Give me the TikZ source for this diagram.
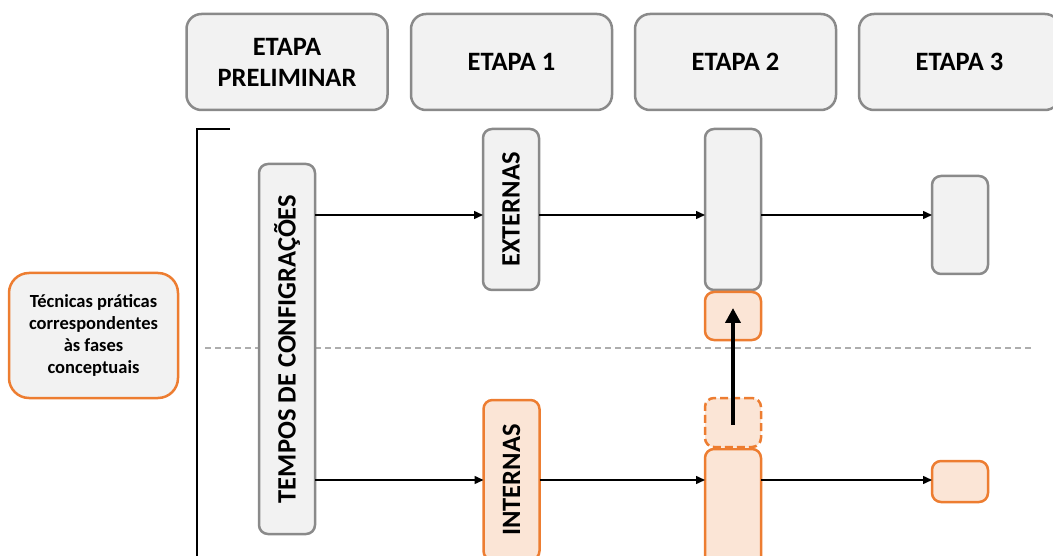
\documentclass[tikz,border=0pt]{standalone}
\usepackage{fontspec}
\setmainfont{Carlito}
\usetikzlibrary{arrows.meta}
\definecolor{boxgrey}{HTML}{F2F2F2}
\definecolor{edgegrey}{HTML}{8A8A8A}
\definecolor{accent}{HTML}{ED7D31}
\definecolor{peach}{HTML}{FBE5D6}
\tikzset{
  every node/.style={inner sep=0pt, outer sep=0pt},
  greybox/.style={draw=edgegrey, fill=boxgrey, line width=2.5pt, rounded corners=9pt},
  orangebox/.style={draw=accent, fill=peach, line width=2.5pt, rounded corners=9pt},
  header/.style={greybox, rounded corners=15pt, minimum width=201pt, minimum height=96pt,
    align=center, font=\fontsize{26.5}{31}\selectfont\bfseries},
  vlabel/.style={font=\fontsize{26.5}{30}\selectfont\bfseries},
  flow/.style={line width=1.5pt, -{Triangle[length=9pt,width=8pt]}},
  lift/.style={line width=4pt, -{Triangle[length=15pt,width=15pt]}},
}
\begin{document}
\begin{tikzpicture}[x=1pt, y=-1pt]
\useasboundingbox (0,0) rectangle (1053,556);

% phase headers
\node[header] (hp) at (287,62) {ETAPA\\PRELIMINAR};
\node[header] (h1) at (511.5,62) {ETAPA 1};
\node[header] (h2) at (735.5,62) {ETAPA 2};
\node[header] (h3) at (959.5,62) {ETAPA 3};

% bracket on the left of the flow area
\coordinate (bt) at (230,129);
\coordinate (bc) at (197,129);
\coordinate (bb) at (197,560);
\draw[line width=2pt] (bt) -- (bc) -- (bb);

% separator between external and internal set-ups
\coordinate (sl) at (205,348);
\coordinate (sr) at (1034,348);
\draw[edgegrey!70, line width=1.2pt, dash pattern=on 6pt off 4pt] (sl) -- (sr);

% side note
\node[greybox, draw=accent, rounded corners=20pt, minimum width=169pt, minimum height=125pt,
  align=center, font=\fontsize{18.5}{22}\selectfont\bfseries] (note) at (93.5,335.5)
  {Técnicas práticas\\correspondentes\\às fases\\conceptuais};

% set-up times
\node[greybox, minimum width=56pt, minimum height=370pt] (tempos) at (287,349) {};
\node[vlabel, rotate=90] at (tempos.center) {TEMPOS DE CONFIGRAÇÕES};

% stage 1
\node[greybox, minimum width=56pt, minimum height=161pt] (ext) at (511,209.5) {};
\node[vlabel, rotate=90] at (ext.center) {EXTERNAS};
\node[orangebox, minimum width=56pt, minimum height=160pt] (int) at (511.5,480) {};
\node[vlabel, rotate=90] at (int.center) {INTERNAS};

% stage 2
\node[greybox, minimum width=56pt, minimum height=161pt] (s2a) at (733,209.5) {};
\node[orangebox, minimum width=56pt, minimum height=48pt] (s2b) at (733,316) {};
\node[orangebox, dash pattern=on 8pt off 4pt, minimum width=56pt, minimum height=49pt] (s2c) at (733,422.5) {};
\node[orangebox, minimum width=56pt, minimum height=118pt] (s2d) at (733,508) {};

% stage 3
\node[greybox, minimum width=56pt, minimum height=98pt] (s3a) at (960,225) {};
\node[orangebox, minimum width=56pt, minimum height=41pt] (s3b) at (960,481.5) {};

% flows
\coordinate (up) at (0,215);
\coordinate (lo) at (0,480);
\draw[flow] (tempos.east |- up) -- (ext.west |- up);
\draw[flow] (ext.east |- up) -- (s2a.west |- up);
\draw[flow] (s2a.east |- up) -- (s3a.west |- up);
\draw[flow] (tempos.east |- lo) -- (int.west |- lo);
\draw[flow] (int.east |- lo) -- (s2d.west |- lo);
\draw[flow] (s2d.east |- lo) -- (s3b.west |- lo);

% conversion of internal into external
\draw[lift] ([yshift=-2pt]s2c.center) -- ([yshift=8pt]s2b.center);
\end{tikzpicture}
\end{document}
